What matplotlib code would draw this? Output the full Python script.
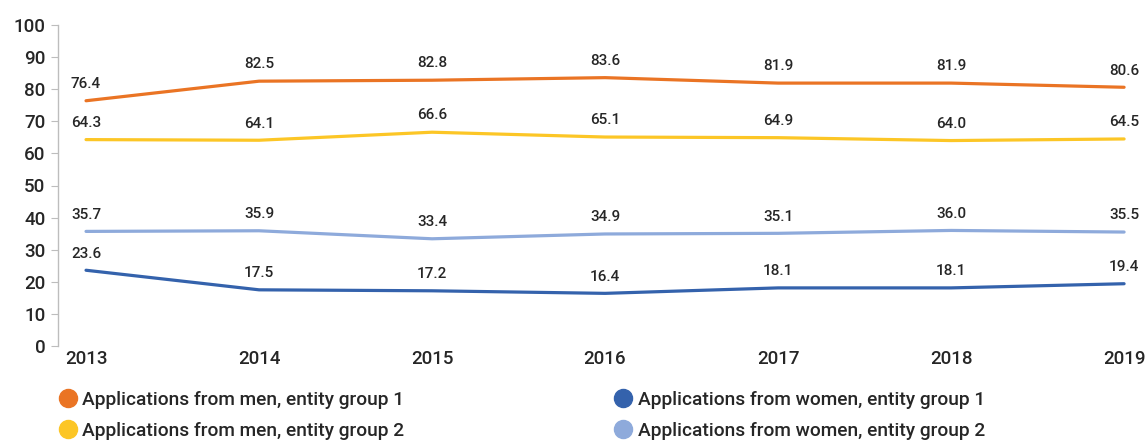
import matplotlib
matplotlib.use("Agg")
import matplotlib.pyplot as plt
from matplotlib.lines import Line2D

years = [2013, 2014, 2015, 2016, 2017, 2018, 2019]
men_g1 = [76.4, 82.5, 82.8, 83.6, 81.9, 81.9, 80.6]
men_g2 = [64.3, 64.1, 66.6, 65.1, 64.9, 64.0, 64.5]
women_g2 = [35.7, 35.9, 33.4, 34.9, 35.1, 36.0, 35.5]
women_g1 = [23.6, 17.5, 17.2, 16.4, 18.1, 18.1, 19.4]
labels = ["Applications from men, entity group 1",
          "Applications from men, entity group 2",
          "Applications from women, entity group 1",
          "Applications from women, entity group 2"]
colors = ["#EA7424", "#FCC626", "#3462AC", "#8EAADB"]

plt.rcParams['font.family'] = ['Roboto', 'DejaVu Sans']
plt.rcParams['font.weight'] = 'medium'
txt = "#262626"

W, H = 1146, 442
fig = plt.figure(figsize=(W/100, H/100), dpi=100)
ax = fig.add_axes([58/W, 1-346/H, (1140-58)/W, (346-25)/H])

series = [men_g1, men_g2, women_g1, women_g2]
for s, c in zip(series, colors):
    ax.plot(years, s, color=c, lw=2.3, solid_capstyle='round')
    for x, y in zip(years, s):
        ax.annotate(f"{y:.1f}", (x, y), xytext=(0, 7), textcoords='offset points',
                    ha='center', va='bottom', fontsize=11, color=txt)

ax.set_xlim(2012.838, 2019.092)
ax.set_ylim(0, 100)
ax.set_yticks(range(0, 101, 10))
ax.set_xticks(years)
ax.set_xticklabels([str(y) for y in years])
for sp in ['top', 'right', 'bottom']:
    ax.spines[sp].set_visible(False)
ax.spines['left'].set_color('#BDBDBD')
ax.spines['left'].set_linewidth(1.0)
ax.tick_params(axis='y', length=5, color='#BDBDBD', labelsize=13.5, labelcolor=txt, pad=4)
ax.tick_params(axis='x', length=0, labelsize=13.5, labelcolor=txt, pad=3)

def handle(c):
    return Line2D([], [], marker='o', linestyle='none', markersize=13,
                  markerfacecolor=c, markeredgecolor=c)

for hs, ls, xpos in [((colors[0], colors[1]), labels[:2], 48),
                     ((colors[2], colors[3]), labels[2:], 603)]:
    fig.legend([handle(c) for c in hs], ls,
               loc='upper left', bbox_to_anchor=(xpos/W, 1-381/H), frameon=False,
               fontsize=13.8, handletextpad=0.2, labelspacing=0.7, borderpad=0,
               handlelength=1.1, labelcolor=txt)

fig.savefig("out.png", dpi=100)
